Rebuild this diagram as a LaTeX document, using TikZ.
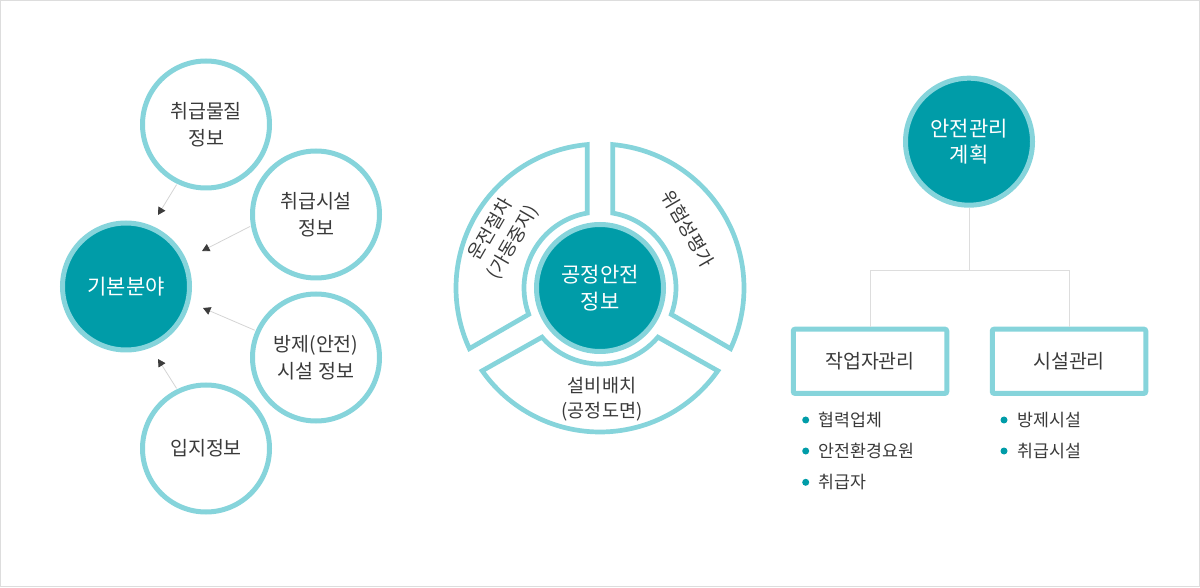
\documentclass[tikz,border=0pt]{standalone}
\usepackage{fontspec}
\setmainfont{Noto Sans CJK KR}
\usetikzlibrary{arrows.meta,calc}
\definecolor{teal1}{HTML}{009CA8}
\definecolor{teal2}{HTML}{86D4DB}
\definecolor{txt}{HTML}{3A3A3A}
\definecolor{lgray}{HTML}{DDDDDD}
\definecolor{agray}{HTML}{D4D4D4}
\definecolor{ahead}{HTML}{3C3C3C}
\begin{document}
\begin{tikzpicture}[x=1pt,y=1pt,
  every node/.style={text=txt, font=\fontsize{19.5}{26.5}\selectfont, align=center, inner sep=0pt},
  smallc/.style={circle, draw=teal2, line width=5pt, fill=white, minimum size=127pt},
  mainc/.style={circle, draw=teal2, line width=5pt, fill=teal1, minimum size=127pt, text=white, font=\fontsize{21}{26.5}\selectfont},
  arr/.style={draw=agray, line width=0.8pt, shorten <=1pt, -{Triangle[length=7.5pt,width=8pt,color=ahead]}},
  seg/.style={draw=teal2, line width=4.7pt, line join=miter, fill=white},
  segtext/.style={font=\fontsize{18.5}{25.5}\selectfont},
  tree/.style={draw=lgray, line width=1pt},
  boxn/.style={rectangle, draw=teal2, line width=5pt, rounded corners=2pt, minimum width=153.5pt, minimum height=64.3pt, fill=white},
  dotn/.style={circle, fill=teal1, minimum size=7pt, inner sep=0pt},
  item/.style={anchor=west, font=\fontsize{17.3}{20}\selectfont}
]
\useasboundingbox (0,0) rectangle (1200,587);
\draw[lgray, line width=1pt] (0.5,0.5) rectangle (1199.5,586.5);

% ---------- left group ----------
\node[mainc]  (c0) at (126,300.5) {기본분야};
\node[smallc] (c1) at (206,462.5) {취급물질\\정보};
\node[smallc] (c2) at (316,372.5) {취급시설\\정보};
\node[smallc] (c3) at (316,229.5) {방제(안전)\\시설 정보};
\node[smallc] (c4) at (206,138.5) {입지정보};
\coordinate (t1) at (158,372);
\coordinate (t2) at (202,336);
\coordinate (t3) at (203,279);
\coordinate (t4) at (158,228);
\draw[arr] (c1.244) -- (t1);
\draw[arr] (c2.190) -- (t2);
\draw[arr] (c3.156) -- (t3);
\draw[arr] (c4.116) -- (t4);

% ---------- middle group ----------
\begin{scope}[shift={(600,299)}]
  \path[seg] (84.9:144) arc[start angle=84.9,end angle=-24.9,radius=144]
    -- (-20.3:76) arc[start angle=-20.3,end angle=80.3,radius=76] -- cycle;
  \path[seg] (95.1:144) arc[start angle=95.1,end angle=204.9,radius=144]
    -- (200.3:76) arc[start angle=200.3,end angle=99.7,radius=76] -- cycle;
  \path[seg] (215.1:144) arc[start angle=215.1,end angle=324.9,radius=144]
    -- (319.7:76) arc[start angle=319.7,end angle=220.3,radius=76] -- cycle;
  \node[mainc] (cc) at (0,0) {공정안전\\정보};
  \node[segtext, rotate=60]  (l1) at (152:111) {운전절차\\(가동중지)};
  \node[segtext, rotate=-60] (l2) at (34:106) {위험성평가};
  \node[segtext]             (l3) at (2,-111) {설비배치\\(공정도면)};
\end{scope}

% ---------- right group ----------
\node[mainc] (rc) at (969,445.3) {안전관리\\계획};
\node[boxn] (b1) at (870,225.7) {작업자관리};
\node[boxn] (b2) at (1069,225.7) {시설관리};
\coordinate (j) at (969,316);
\draw[tree] (rc.south) -- (j);
\draw[tree] (b1.north) |- (j);
\draw[tree] (j) -| (b2.north);

\node[dotn] (d1) at (805.7,167) {};
\node[dotn] (d2) at (805.7,136) {};
\node[dotn] (d3) at (805.7,104.7) {};
\node[dotn] (d4) at (1004,167) {};
\node[dotn] (d5) at (1004,136) {};
\node[item] (i1) at (818.5,167) {협력업체};
\node[item] (i2) at (818.5,136) {안전환경요원};
\node[item] (i3) at (818.5,104.7) {취급자};
\node[item] (i4) at (1017.5,167) {방제시설};
\node[item] (i5) at (1017.5,136) {취급시설};
\end{tikzpicture}
\end{document}
